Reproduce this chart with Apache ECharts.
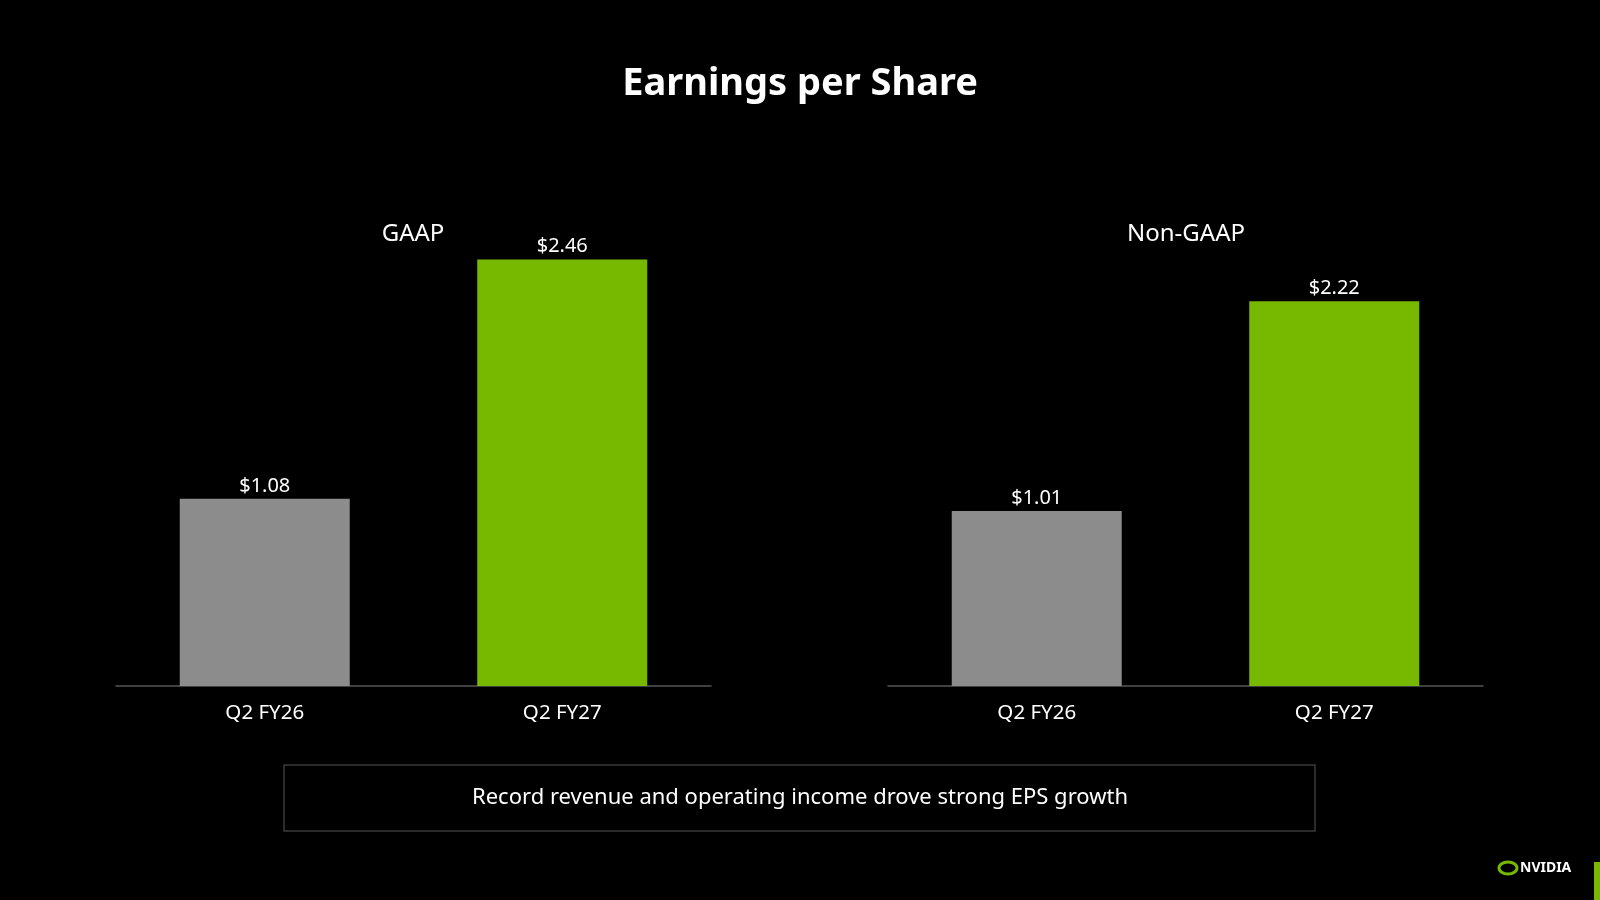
<!DOCTYPE html>
<html>
<head>
<meta charset="utf-8" />
<title>Earnings per Share</title>
<script type="text/javascript" src="https://cdn.jsdelivr.net/npm/echarts@6/dist/echarts.min.js"></script>
</head>
<body style="margin:0;background-color:#000;">
<div id="main" style="width:1600px;height:900px;background-color:#000;"></div>
<script type="text/javascript">
  // data
  var quarters = ['Q2 FY26', 'Q2 FY27'];
  var gaapEps = [1.08, 2.46];
  var nonGaapEps = [1.01, 2.22];
  var panelNames = ['GAAP', 'Non-GAAP'];
  var barColors = ['#8c8c8c', '#76b900'];

  var font = 'Noto Sans';

  function makeSeries(idx, values) {
    return {
      type: 'bar',
      xAxisIndex: idx,
      yAxisIndex: idx,
      barWidth: 170,
      data: values.map(function (v, i) {
        return { value: v, itemStyle: { color: barColors[i] } };
      }),
      label: {
        show: true,
        position: 'top',
        distance: 3,
        color: '#fff',
        fontFamily: font,
        fontSize: 20,
        formatter: function (p) { return '$' + p.value.toFixed(2); }
      },
      silent: true
    };
  }

  function makeX(idx) {
    return {
      type: 'category',
      gridIndex: idx,
      data: quarters,
      axisLine: { lineStyle: { color: '#555', width: 1.5 } },
      axisTick: { show: false },
      axisLabel: { color: '#fff', fontFamily: font, fontSize: 20.5, margin: 17 }
    };
  }

  function makeY(idx) {
    return {
      type: 'value',
      gridIndex: idx,
      min: 0,
      max: 3,
      show: false,
      splitLine: { show: false }
    };
  }

  var myChart = echarts.init(document.getElementById('main'));
  myChart.setOption({
    backgroundColor: '#000',
    animation: false,
    title: [
      {
        text: 'Earnings per Share',
        left: 'center',
        top: 60,
        textStyle: { color: '#fff', fontFamily: font, fontWeight: 'bold', fontSize: 38 }
      },
      {
        text: panelNames[0],
        left: 408,
        top: 217,
        textAlign: 'center',
        textStyle: { color: '#fff', fontFamily: font, fontWeight: 'normal', fontSize: 24 }
      },
      {
        text: panelNames[1],
        left: 1181,
        top: 217,
        textAlign: 'center',
        textStyle: { color: '#fff', fontFamily: font, fontWeight: 'normal', fontSize: 24 }
      }
    ],
    grid: [
      { left: 116, top: 166, width: 595, height: 520 },
      { left: 888, top: 166, width: 595, height: 520 }
    ],
    xAxis: [makeX(0), makeX(1)],
    yAxis: [makeY(0), makeY(1)],
    series: [makeSeries(0, gaapEps), makeSeries(1, nonGaapEps)],
    graphic: [
      {
        type: 'rect',
        shape: { x: 284, y: 765, width: 1031, height: 66 },
        style: { fill: 'none', stroke: '#3a3a3a', lineWidth: 1.5 }
      },
      {
        type: 'text',
        x: 800,
        y: 798,
        style: {
          text: 'Record revenue and operating income drove strong EPS growth',
          fill: '#fff',
          font: '22px "Noto Sans"',
          textAlign: 'center',
          textVerticalAlign: 'middle'
        }
      },
      // logo
      {
        type: 'ellipse',
        shape: { cx: 1508, cy: 868, rx: 9, ry: 6 },
        style: { fill: 'none', stroke: '#76b900', lineWidth: 3 }
      },
      {
        type: 'text',
        x: 1520,
        y: 868,
        style: {
          text: 'NVIDIA',
          fill: '#fff',
          font: 'bold 14px "Noto Sans"',
          textVerticalAlign: 'middle'
        }
      },
      {
        type: 'rect',
        shape: { x: 1594, y: 862, width: 6, height: 38 },
        style: { fill: '#76b900' }
      }
    ]
  });
</script>
</body>
</html>
